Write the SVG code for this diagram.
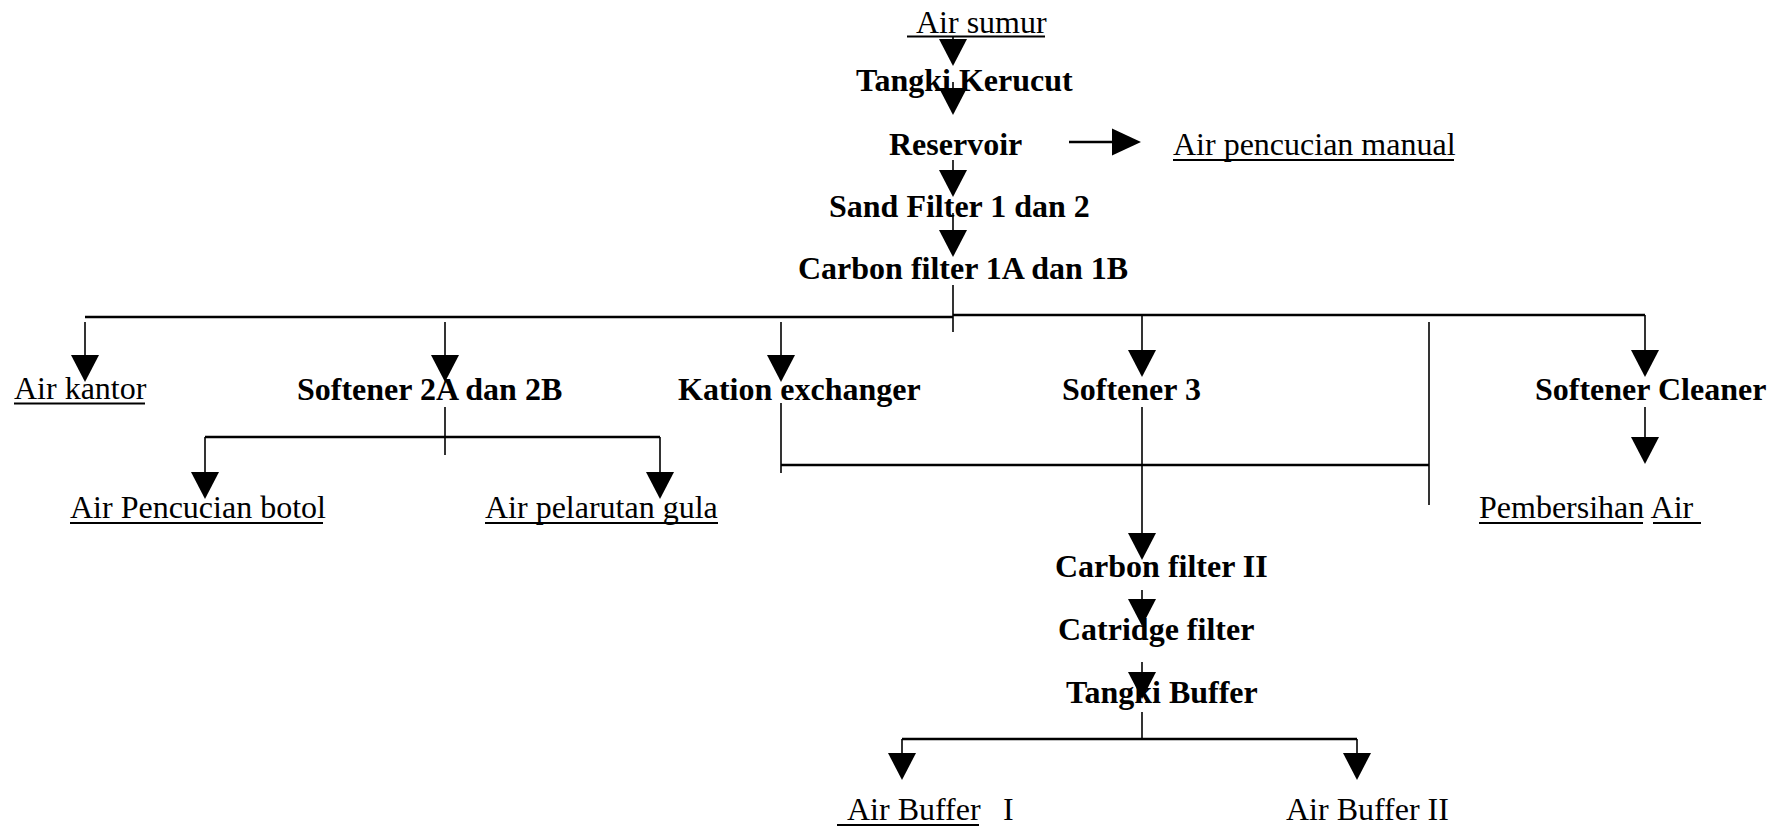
<svg xmlns="http://www.w3.org/2000/svg" width="1778" height="828" viewBox="0 0 1778 828">
  <style>
    text { font-family: "Liberation Serif", "Times New Roman", serif; font-size: 32px; fill: #000; }
    .b { font-weight: bold; }
    .ul { stroke: #000; stroke-width: 2.2; }
    .ln { stroke: #000; stroke-width: 1.6; fill: none; }
    .bus { stroke: #000; stroke-width: 2.4; fill: none; }
    .head { fill: #000; }
  </style>
  <defs>
    <!-- downward arrowhead, top edge at origin -->
    <path id="down" class="head" d="M-14,0 L14,0 L0,27 Z"/>
    <!-- rightward arrowhead, back edge at origin -->
    <path id="right" class="head" d="M0,-13.5 L0,13.5 L29,0 Z"/>
  </defs>
  <rect width="1778" height="828" fill="#fff"/>

  <g id="connectors">
    <!-- main chain -->
    <line class="ln" x1="953" y1="36" x2="953" y2="40"/>
    <use href="#down" x="953" y="39"/>
    <line class="ln" x1="953" y1="82" x2="953" y2="89"/>
    <use href="#down" x="953" y="88"/>
    <line class="ln" x1="1069" y1="142" x2="1113" y2="142" style="stroke-width:2.4"/>
    <use href="#right" x="1112" y="142"/>
    <line class="ln" x1="953" y1="160" x2="953" y2="171"/>
    <use href="#down" x="953" y="170"/>
    <line class="ln" x1="953" y1="213" x2="953" y2="231"/>
    <use href="#down" x="953" y="230"/>
    <line class="ln" x1="953" y1="285" x2="953" y2="332"/>

    <!-- distribution bus -->
    <line class="bus" x1="85" y1="317" x2="953" y2="317"/>
    <line class="bus" x1="953" y1="315" x2="1645" y2="315"/>
    <line class="ln" x1="85" y1="322" x2="85" y2="356"/>
    <use href="#down" x="85" y="355"/>
    <line class="ln" x1="445" y1="322" x2="445" y2="356"/>
    <use href="#down" x="445" y="355"/>
    <line class="ln" x1="781" y1="322" x2="781" y2="356"/>
    <use href="#down" x="781" y="355"/>
    <line class="ln" x1="1142" y1="315" x2="1142" y2="351"/>
    <use href="#down" x="1142" y="350"/>
    <line class="ln" x1="1645" y1="315" x2="1645" y2="351"/>
    <use href="#down" x="1645" y="350"/>
    <line class="ln" x1="1429" y1="322" x2="1429" y2="505"/>

    <!-- Softener 2A dan 2B split -->
    <line class="ln" x1="445" y1="407" x2="445" y2="455"/>
    <line class="bus" x1="205" y1="437" x2="660" y2="437"/>
    <line class="ln" x1="205" y1="437" x2="205" y2="473"/>
    <use href="#down" x="205" y="472"/>
    <line class="ln" x1="660" y1="437" x2="660" y2="473"/>
    <use href="#down" x="660" y="472"/>

    <!-- Kation exchanger / Softener 3 merge -->
    <line class="ln" x1="781" y1="403" x2="781" y2="473"/>
    <line class="bus" x1="781" y1="465" x2="1429" y2="465"/>
    <line class="ln" x1="1142" y1="407" x2="1142" y2="534"/>
    <use href="#down" x="1142" y="533"/>

    <!-- Softener Cleaner -->
    <line class="ln" x1="1645" y1="407" x2="1645" y2="438"/>
    <use href="#down" x="1645" y="437"/>

    <!-- lower chain -->
    <line class="ln" x1="1142" y1="590" x2="1142" y2="600"/>
    <use href="#down" x="1142" y="599"/>
    <line class="ln" x1="1142" y1="662" x2="1142" y2="673"/>
    <use href="#down" x="1142" y="672"/>
    <line class="ln" x1="1142" y1="712" x2="1142" y2="739"/>
    <line class="bus" x1="902" y1="739" x2="1357" y2="739"/>
    <line class="ln" x1="902" y1="739" x2="902" y2="754"/>
    <use href="#down" x="902" y="753"/>
    <line class="ln" x1="1357" y1="739" x2="1357" y2="754"/>
    <use href="#down" x="1357" y="753"/>
  </g>

  <g id="air-sumur">
    <text x="916" y="33">Air sumur</text>
    <line class="ul" x1="907" y1="36.5" x2="1045" y2="36.5"/>
  </g>
  <g id="tangki-kerucut"><text class="b" x="856" y="91">Tangki Kerucut</text></g>
  <g id="reservoir"><text class="b" x="889" y="155">Reservoir</text></g>
  <g id="air-pencucian-manual">
    <text x="1173" y="155">Air pencucian manual</text>
    <line class="ul" x1="1173" y1="160" x2="1454" y2="160"/>
  </g>
  <g id="sand-filter"><text class="b" x="829" y="217">Sand Filter 1 dan 2</text></g>
  <g id="carbon-filter-1"><text class="b" x="798" y="279">Carbon filter 1A dan 1B</text></g>

  <g id="air-kantor">
    <text x="14" y="399">Air kantor</text>
    <line class="ul" x1="14" y1="403.5" x2="145" y2="403.5"/>
  </g>
  <g id="softener-2"><text class="b" x="297" y="400">Softener 2A dan 2B</text></g>
  <g id="kation-exchanger"><text class="b" x="678" y="400">Kation exchanger</text></g>
  <g id="softener-3"><text class="b" x="1062" y="400">Softener 3</text></g>
  <g id="softener-cleaner"><text class="b" x="1535" y="400">Softener Cleaner</text></g>

  <g id="air-pencucian-botol">
    <text x="70" y="518">Air Pencucian botol</text>
    <line class="ul" x1="70" y1="523" x2="323" y2="523"/>
  </g>
  <g id="air-pelarutan-gula">
    <text x="485" y="518">Air pelarutan gula</text>
    <line class="ul" x1="485" y1="523" x2="718" y2="523"/>
  </g>
  <g id="pembersihan-air">
    <text x="1479" y="518">Pembersihan Air</text>
    <line class="ul" x1="1479" y1="523" x2="1643" y2="523"/>
    <line class="ul" x1="1653" y1="523" x2="1701" y2="523"/>
  </g>

  <g id="carbon-filter-2"><text class="b" x="1055" y="577">Carbon filter II</text></g>
  <g id="catridge-filter"><text class="b" x="1058" y="640">Catridge filter</text></g>
  <g id="tangki-buffer"><text class="b" x="1066" y="703">Tangki Buffer</text></g>

  <g id="air-buffer-1">
    <text x="847" y="820">Air Buffer</text>
    <line class="ul" x1="837" y1="825" x2="979" y2="825"/>
    <text x="1003" y="820">I</text>
  </g>
  <g id="air-buffer-2"><text x="1286" y="820">Air Buffer II</text></g>
</svg>
